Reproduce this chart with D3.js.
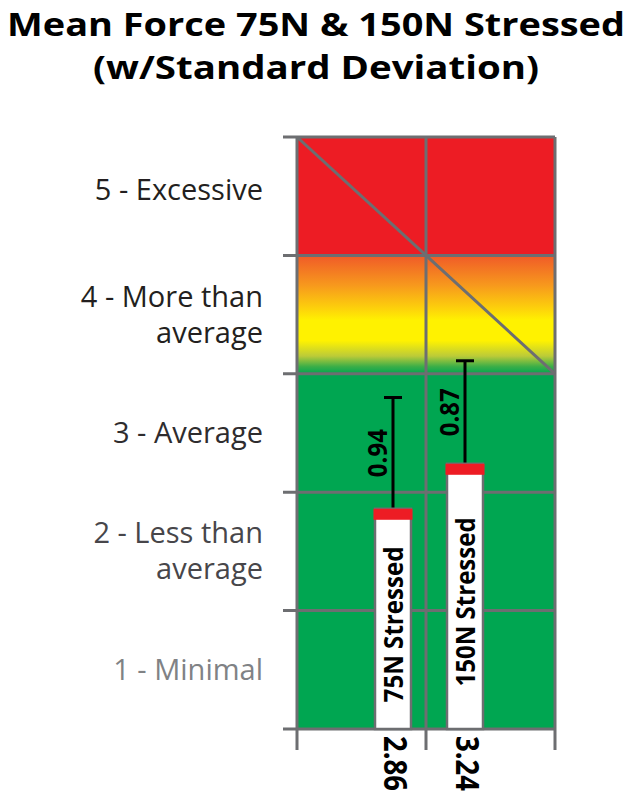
<!DOCTYPE html>
<html>
<head>
<meta charset="utf-8">
<script src="https://cdn.jsdelivr.net/npm/d3@7"></script>
<style>
  html, body { margin: 0; padding: 0; background: #fff; }
  svg { display: block; font-family: "Open Sans", "Noto Sans", sans-serif; }
</style>
</head>
<body>
<div id="chart"></div>
<script>
// chart data
var categories = ["75N Stressed", "150N Stressed"];
var means = [2.86, 3.24];
var stdDevs = [0.94, 0.87];

// rating levels (value = lower edge of its band)
var levelValues = [5, 4, 3, 2, 1];
var levelLabels = [["5 - Excessive"], ["4 - More than", "average"], ["3 - Average"], ["2 - Less than", "average"], ["1 - Minimal"]];
var levelColors = ["#231f20", "#231f20", "#2e2c2e", "#47464a", "#808285"];
var gridValues = [1, 2, 3, 4, 5, 6];

var titleLines = ["Mean Force 75N & 150N Stressed", "(w/Standard Deviation)"];

var w = 632, h = 800;
var gridColor = "#6d6e71";

var svg = d3.select("#chart").append("svg")
  .attr("width", w)
  .attr("height", h);

// scales
var y = d3.scaleLinear().domain([1, 6]).range([729, 137]);
var gx = d3.scaleLinear().domain([0, 2]).range([297, 555]);
var x = d3.scaleBand().domain(categories)
  .range([357, 501]).paddingInner(0.5).paddingOuter(0.25);

// gradient for the "more than average" band
var defs = svg.append("defs");
var grad = defs.append("linearGradient").attr("id", "warn")
  .attr("x1", 0).attr("y1", 0).attr("x2", 0).attr("y2", 1);
[[0, "#f05a28"], [0.25, "#f7981d"], [0.45, "#fdd20b"], [0.55, "#fff200"],
 [0.72, "#fff200"], [0.85, "#bccb38"], [0.94, "#3aae48"], [1, "#00a651"]]
  .forEach(function(s) {
    grad.append("stop").attr("offset", s[0]).attr("stop-color", s[1]);
  });

// background bands
svg.append("rect")
  .attr("x", gx(0)).attr("y", y(4))
  .attr("width", gx(2) - gx(0)).attr("height", y(1) - y(4))
  .attr("fill", "#00a651");
svg.append("rect")
  .attr("x", gx(0)).attr("y", y(5))
  .attr("width", gx(2) - gx(0)).attr("height", y(4) - y(5))
  .attr("fill", "url(#warn)");
svg.append("rect")
  .attr("x", gx(0)).attr("y", y(6))
  .attr("width", gx(2) - gx(0)).attr("height", y(5) - y(6))
  .attr("fill", "#ed1c24");

// grid lines + ticks
svg.selectAll(".hgrid")
  .data(gridValues)
  .enter()
  .append("line")
  .attr("class", "hgrid")
  .attr("x1", gx(0) - 14).attr("x2", gx(2))
  .attr("y1", function(d) { return y(d); })
  .attr("y2", function(d) { return y(d); })
  .attr("stroke", gridColor).attr("stroke-width", 3);

svg.selectAll(".vgrid")
  .data([0, 1, 2])
  .enter()
  .append("line")
  .attr("class", "vgrid")
  .attr("x1", function(d) { return gx(d); })
  .attr("x2", function(d) { return gx(d); })
  .attr("y1", y(6)).attr("y2", y(1) + 21)
  .attr("stroke", gridColor).attr("stroke-width", 3);

// diagonal lines
svg.append("path")
  .attr("d", "M" + gx(0) + "," + y(6) + "L" + gx(1) + "," + y(5) + "L" + gx(2) + "," + y(4))
  .attr("fill", "none")
  .attr("stroke", gridColor).attr("stroke-width", 3);

// level labels
var lab = svg.selectAll(".level")
  .data(levelValues)
  .enter()
  .append("text")
  .attr("class", "level")
  .attr("text-anchor", "end")
  .attr("font-size", 29)
  .attr("fill", function(d, i) { return levelColors[i]; })
  .attr("y", function(d, i) {
    var mid = (y(d) + y(d + 1)) / 2;
    var n = levelLabels[i].length;
    return mid + 10 - (n - 1) * 18 - (i === 0 ? 6 : 0);
  });
lab.selectAll("tspan")
  .data(function(d, i) { return levelLabels[i]; })
  .enter()
  .append("tspan")
  .attr("x", 263)
  .attr("dy", function(d, i) { return i === 0 ? 0 : 36; })
  .text(function(d) { return d; });

// error bars
var eb = svg.selectAll(".err")
  .data(categories)
  .enter()
  .append("g")
  .attr("class", "err");
eb.append("line")
  .attr("x1", function(d) { return x(d) + x.bandwidth() / 2; })
  .attr("x2", function(d) { return x(d) + x.bandwidth() / 2; })
  .attr("y1", function(d, i) { return y(means[i]); })
  .attr("y2", function(d, i) { return y(means[i] + stdDevs[i]); })
  .attr("stroke", "#000").attr("stroke-width", 3);
eb.append("line")
  .attr("x1", function(d) { return x(d) + x.bandwidth() / 2 - 9; })
  .attr("x2", function(d) { return x(d) + x.bandwidth() / 2 + 9; })
  .attr("y1", function(d, i) { return y(means[i] + stdDevs[i]); })
  .attr("y2", function(d, i) { return y(means[i] + stdDevs[i]); })
  .attr("stroke", "#000").attr("stroke-width", 3);
eb.append("text")
  .attr("transform", function(d, i) {
    var cx = x(d) + x.bandwidth() / 2 - 16;
    var cy = (y(means[i]) + y(means[i] + stdDevs[i])) / 2;
    return "translate(" + cx + "," + cy + ") rotate(-90)";
  })
  .attr("text-anchor", "middle")
  .attr("dy", "0.36em")
  .attr("font-size", 27)
  .attr("font-weight", "bold")
  .attr("fill", "#000")
  .attr("textLength", 48)
  .attr("lengthAdjust", "spacingAndGlyphs")
  .text(function(d, i) { return stdDevs[i].toFixed(2); });

// bars
svg.selectAll(".bar")
  .data(categories)
  .enter()
  .append("rect")
  .attr("class", "bar")
  .attr("x", function(d) { return x(d); })
  .attr("y", function(d, i) { return y(means[i]); })
  .attr("width", x.bandwidth())
  .attr("height", function(d, i) { return y(1) - y(means[i]); })
  .attr("fill", "#fff")
  .attr("stroke", gridColor).attr("stroke-width", 2.5);

svg.selectAll(".cap")
  .data(categories)
  .enter()
  .append("rect")
  .attr("class", "cap")
  .attr("x", function(d) { return x(d) - 1.5; })
  .attr("y", function(d, i) { return y(means[i]); })
  .attr("width", x.bandwidth() + 3)
  .attr("height", 11)
  .attr("fill", "#ed1c24");

// bar labels
svg.selectAll(".barlabel")
  .data(categories)
  .enter()
  .append("text")
  .attr("class", "barlabel")
  .attr("transform", function(d, i) {
    var cx = x(d) + x.bandwidth() / 2;
    var cy = (y(means[i]) + 11 + y(1)) / 2;
    return "translate(" + cx + "," + cy + ") rotate(-90)";
  })
  .attr("text-anchor", "middle")
  .attr("dy", "0.36em")
  .attr("font-size", 27)
  .attr("font-weight", "bold")
  .attr("fill", "#000")
  .attr("textLength", function(d) { return d.length * 13; })
  .attr("lengthAdjust", "spacingAndGlyphs")
  .text(function(d) { return d; });

// value labels under axis
svg.selectAll(".vallabel")
  .data(categories)
  .enter()
  .append("text")
  .attr("class", "vallabel")
  .attr("transform", function(d) {
    var cx = x(d) + x.bandwidth() / 2 + 3;
    return "translate(" + cx + "," + (y(1) + 7) + ") rotate(90)";
  })
  .attr("dy", "0.36em")
  .attr("font-size", 32)
  .attr("font-weight", "bold")
  .attr("fill", "#000")
  .attr("textLength", 55)
  .attr("lengthAdjust", "spacingAndGlyphs")
  .text(function(d, i) { return means[i].toFixed(2); });

// title
svg.selectAll(".title")
  .data(titleLines)
  .enter()
  .append("text")
  .attr("class", "title")
  .attr("x", 316)
  .attr("y", function(d, i) { return i === 0 ? 36 : 79; })
  .attr("text-anchor", "middle")
  .attr("font-size", 33)
  .attr("font-weight", "bold")
  .attr("fill", "#000")
  .attr("textLength", function(d, i) { return i === 0 ? 618 : 446; })
  .attr("lengthAdjust", "spacingAndGlyphs")
  .text(function(d) { return d; });
</script>
</body>
</html>
